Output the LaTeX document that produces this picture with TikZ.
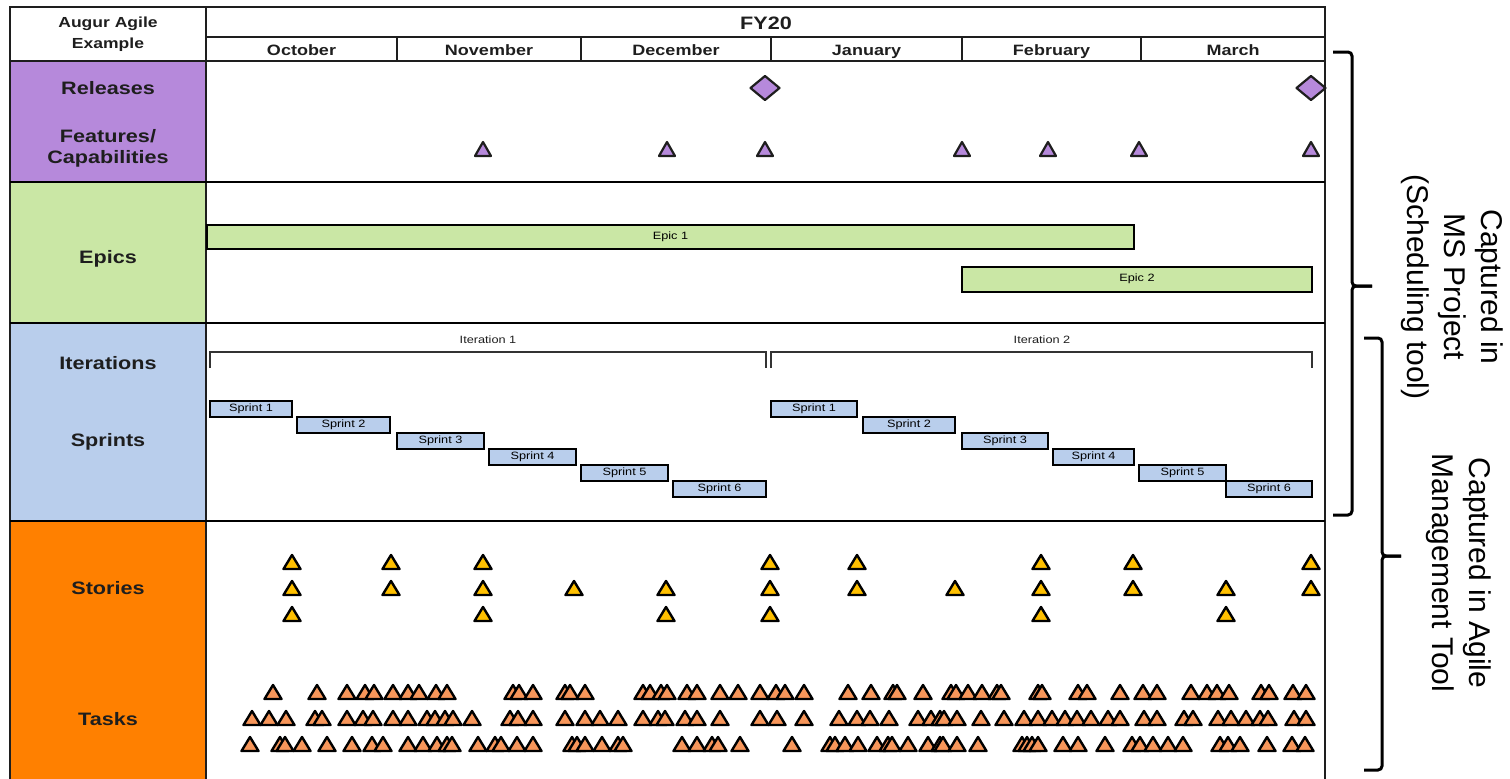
\documentclass[tikz,border=0pt]{standalone}
\usepackage{fontspec}
\setmainfont{Liberation Sans}
\newfontfamily\widesans[FakeStretch=1.2]{Liberation Sans}
\definecolor{relpurple}{RGB}{182,137,219}
\definecolor{epicgreen}{RGB}{202,231,165}
\definecolor{sprintblue}{RGB}{185,206,236}
\definecolor{bandorange}{RGB}{255,128,0}
\definecolor{storygold}{RGB}{255,192,0}
\definecolor{taskorange}{RGB}{247,150,90}
\definecolor{inkgrey}{RGB}{30,30,30}
\tikzset{
  featmark/.pic={\draw[line width=2.2pt, line join=round, draw=inkgrey, fill=relpurple] (-8,7)--(0,-7)--(8,7)--cycle;},
  storymark/.pic={\draw[line width=2.4pt, line join=round, draw=black, fill=storygold] (-8.5,7)--(0,-7)--(8.5,7)--cycle;},
  taskmark/.pic={\draw[line width=2.4pt, line join=round, draw=black, fill=taskorange] (-8.5,7)--(0,-7)--(8.5,7)--cycle;},
}
\begin{document}
\begin{tikzpicture}[x=1pt,y=-1pt,
  frame/.style={draw=inkgrey, line width=2pt},
  thinrule/.style={draw=inkgrey, line width=1.2pt},
  bandrule/.style={draw=black, line width=2.6pt},
  rowlab/.style={font=\widesans\bfseries\fontsize{18}{20.5}\selectfont, align=center, text=inkgrey, inner sep=0pt},
  headlab/.style={font=\widesans\bfseries\fontsize{14.6}{21}\selectfont, align=center, text=inkgrey, inner sep=0pt},
  monthlab/.style={font=\widesans\bfseries\fontsize{15}{17}\selectfont, text=inkgrey, inner sep=0pt, anchor=base},
  yearlab/.style={font=\widesans\bfseries\fontsize{18}{20}\selectfont, text=inkgrey, inner sep=0pt, anchor=base},
  smalllab/.style={font=\widesans\fontsize{10.6}{12}\selectfont, text=inkgrey, inner sep=0pt},
  epicbar/.style={draw=black, line width=2pt, fill=epicgreen, inner sep=0pt, font=\widesans\fontsize{10.6}{12}\selectfont},
  sprintbar/.style={draw=black, line width=2pt, fill=sprintblue, inner sep=0pt, minimum height=16, font=\widesans\fontsize{10.6}{12}\selectfont},
  bracket/.style={draw=black!80, line width=1.6pt},
  bracemark/.style={draw=black, line width=3pt, rounded corners=4pt},
  sidelab/.style={font=\fontsize{30}{37}\selectfont, align=center, rotate=-90, inner sep=0pt, text=black},
]
\useasboundingbox (0,0) rectangle (1510,779);

% coloured row headers
\fill[relpurple] (10,61) rectangle (206,182);
\fill[epicgreen] (10,182) rectangle (206,323);
\fill[sprintblue] (10,323) rectangle (206,521);
\fill[bandorange] (10,521) rectangle (206,800);

% table rules
\draw[frame] (10,800) -- (10,7) -- (1325,7) -- (1325,800);
\draw[frame] (206,7) -- (206,800);
\draw[thinrule] (206,37) -- (1325,37);
\draw[thinrule] (10,61) -- (1325,61);
\foreach \mx in {397,581,771,962,1141}
  \draw[thinrule] (\mx,37) -- (\mx,61);
\draw[bandrule] (10,182) -- (1325,182);
\draw[bandrule] (10,323) -- (1325,323);
\draw[bandrule] (10,521) -- (1325,521);

% header texts
\node[headlab] (corner) at (108,34) {Augur Agile\\Example};
\node[yearlab] (fy) at (766,29) {FY20};
\node[monthlab] (oct) at (301.5,55.5) {October};
\node[monthlab] (nov) at (489,55.5) {November};
\node[monthlab] (dec) at (676,55.5) {December};
\node[monthlab] (jan) at (866.5,55.5) {January};
\node[monthlab] (feb) at (1051.5,55.5) {February};
\node[monthlab] (mar) at (1233,55.5) {March};

% row labels
\node[rowlab] (rel) at (108,88) {Releases};
\node[rowlab] (feat) at (108,148.5) {Features/\\Capabilities};
\node[rowlab] (epics) at (108,259) {Epics};
\node[rowlab] (iters) at (108,363) {Iterations};
\node[rowlab] (sprints) at (108,442) {Sprints};
\node[rowlab] (stories) at (108,588) {Stories};
\node[rowlab] (tasks) at (108,719) {Tasks};

% releases
\foreach \rx in {765,1311}
  \draw[line width=2.2pt, line join=round, draw=inkgrey, fill=relpurple]
    (\rx,76) -- (\rx+14.5,88) -- (\rx,100) -- (\rx-14.5,88) -- cycle;

% features
\foreach \fx in {483,667,765,962,1048,1139,1311}
  \pic at (\fx,149) {featmark};

% epics
\node[epicbar, minimum width=927, minimum height=24] (epic1) at (670.5,237) {Epic 1};
\node[epicbar, minimum width=350, minimum height=25] (epic2) at (1137,279) {Epic 2};

% iterations
\draw[bracket] (210,368) -- (210,352) -- (766,352) -- (766,368);
\draw[bracket] (771,368) -- (771,352) -- (1312,352) -- (1312,368);
\node[smalllab] (it1) at (488,339.5) {Iteration 1};
\node[smalllab] (it2) at (1042,339.5) {Iteration 2};

% sprints
\node[sprintbar, minimum width=82] (sa1) at (251,409) {Sprint 1};
\node[sprintbar, minimum width=93] (sa2) at (343.5,425) {Sprint 2};
\node[sprintbar, minimum width=87] (sa3) at (440.5,441) {Sprint 3};
\node[sprintbar, minimum width=87] (sa4) at (532.5,457) {Sprint 4};
\node[sprintbar, minimum width=87] (sa5) at (624.5,473) {Sprint 5};
\node[sprintbar, minimum width=93] (sa6) at (719.5,488.5) {Sprint 6};
\node[sprintbar, minimum width=86] (sb1) at (814,409) {Sprint 1};
\node[sprintbar, minimum width=92] (sb2) at (909,425) {Sprint 2};
\node[sprintbar, minimum width=86] (sb3) at (1005,441) {Sprint 3};
\node[sprintbar, minimum width=81] (sb4) at (1093.5,457) {Sprint 4};
\node[sprintbar, minimum width=87] (sb5) at (1182.5,473) {Sprint 5};
\node[sprintbar, minimum width=86] (sb6) at (1269,488.5) {Sprint 6};

% stories
\foreach \sx in {292,391,483,770,857,1041,1133,1311}
  \pic at (\sx,562) {storymark};
\foreach \sx in {292,391,483,574,666,770,857,955,1041,1133,1226,1311}
  \pic at (\sx,588) {storymark};
\foreach \sx in {292,483,666,770,1041,1226}
  \pic at (\sx,614) {storymark};

% tasks
\foreach \tx in {273,317,347,365,374,393,408,419,436,447,513,519,533,565,570,585,643,650,661,667,687,697,720,738,760,776,785,804,848,871,893,897,923,951,956,968,982,997,1001,1038,1042,1078,1087,1120,1143,1157,1191,1207,1217,1229,1261,1269,1293,1306}
  \pic at (\tx,692) {taskmark};
\foreach \tx in {252,269,286,315,322,347,363,373,393,408,427,435,445,453,472,510,518,533,565,585,600,618,643,658,665,685,697,720,760,777,804,839,857,870,889,918,931,940,944,957,981,1004,1024,1038,1052,1065,1077,1091,1108,1120,1144,1157,1184,1193,1218,1231,1246,1260,1268,1294,1306}
  \pic at (\tx,718) {taskmark};
\foreach \tx in {250,280,285,302,327,352,372,383,408,423,437,447,452,478,495,501,517,533,572,577,585,602,618,623,682,697,712,718,740,792,830,835,845,858,877,888,892,908,928,940,943,957,978,1022,1027,1032,1038,1063,1078,1105,1132,1140,1153,1168,1183,1220,1228,1240,1267,1292,1305}
  \pic at (\tx,744) {taskmark};

% braces
\draw[bracemark] (1333,52) -- (1352,52) -- (1352,286) -- (1372,286);
\draw[bracemark] (1372,286) -- (1352,286) -- (1352,515) -- (1333,515);
\draw[bracemark] (1364,338) -- (1382,338) -- (1382,556) -- (1401,556);
\draw[bracemark] (1401,556) -- (1382,556) -- (1382,770) -- (1364,770);

\node[sidelab] (msproj) at (1452,287) {Captured in\\MS Project\\(Scheduling tool)};
\node[sidelab] (agile) at (1459,573) {Captured in Agile\\Management Tool};
\end{tikzpicture}
\end{document}
